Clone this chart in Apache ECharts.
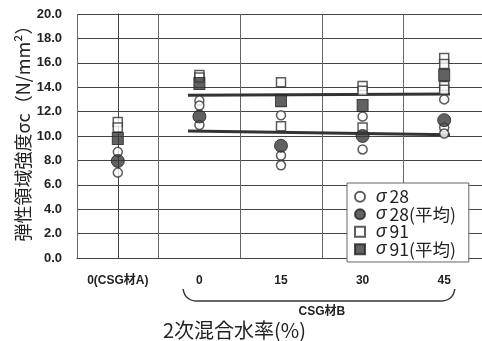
<!DOCTYPE html>
<html>
<head>
<meta charset="utf-8">
<script src="https://cdn.jsdelivr.net/npm/echarts@6/dist/echarts.min.js"></script>
<style>
  html, body { margin: 0; padding: 0; background: #fff; }
  #chart { width: 482px; height: 341px; }
</style>
</head>
<body>
<div id="chart"></div>
<script>
// Secondary mixing water ratio categories
const categories = ['0(CSG材A)', '0', '15', '30', '45'];
// Individual specimens and averages, strength in N/mm²
const sigma28 = [[8.7, 7.0], [12.9, 12.5, 10.9], [11.7, 8.4, 7.6], [11.6, 8.9], [13.0, 10.7, 10.2]];
const sigma28Mean = [7.95, 11.6, 9.2, 10.0, 11.3];
const sigma91 = [[11.15, 10.7], [15.0, 14.8], [14.4, 10.8], [14.1, 13.7, 10.7], [16.4, 15.9, 14.1, 13.8]];
const sigma91Mean = [9.8, 14.3, 12.9, 12.5, 15.0];
// Reference bands drawn across CSG材B (x in category units, y in N/mm²)
const bandX = [0.86, 4.07];
const upperBand = [13.35, 13.45];
const lowerBand = [10.4, 10.1];
// Extent of the CSG材B brace, in category units
const braceX = [0.8, 4.13];
const yTicks = { min: 0, max: 20, step: 2 };

const FONT = "'Liberation Sans', 'Noto Sans CJK JP', sans-serif";
const CJK = "'Noto Sans CJK JP', 'Liberation Sans', sans-serif";
const INK = '#333';

function spread(groups) {
  const out = [];
  groups.forEach((vals, i) => vals.forEach(v => out.push([categories[i], v])));
  return out;
}
function pairs(vals) { return vals.map((v, i) => [categories[i], v]); }

const chart = echarts.init(document.getElementById('chart'), null, { renderer: 'canvas' });

const option = {
  backgroundColor: '#fff',
  animation: false,
  title: {
    text: '2次混合水率(%)',
    left: 158, top: 315,
    textStyle: { fontFamily: CJK, fontSize: 20, fontWeight: 'normal', color: '#222' }
  },
  grid: { left: 77, top: 14, width: 408, height: 244, outerBoundsMode: 'none', containLabel: false },
  xAxis: [{
    type: 'category',
    data: categories,
    boundaryGap: true,
    axisLine: { show: true, lineStyle: { color: '#444', width: 1 } },
    axisTick: { show: false },
    axisLabel: { interval: 0, margin: 17, fontFamily: FONT, fontSize: 12, fontWeight: 'bold', color: '#222' },
    splitLine: { show: true, interval: 0, lineStyle: { color: '#666', width: 1 } }
  }, {
    type: 'value', min: -0.5, max: 4.5, show: false
  }],
  yAxis: {
    type: 'value',
    min: yTicks.min, max: yTicks.max, interval: yTicks.step,
    name: '弾性領域強度σc（N/mm²）',
    nameLocation: 'middle',
    nameGap: 45,
    nameMoveOverlap: false,
    nameTextStyle: { fontFamily: CJK, fontSize: 18, color: '#222', padding: [0, 0, 0, 14] },
    axisLine: { show: true, lineStyle: { color: '#444' } },
    axisTick: { show: false },
    axisLabel: {
      margin: 15, fontFamily: FONT, fontSize: 13, fontWeight: 'bold', color: '#222',
      formatter: v => v.toFixed(1)
    },
    splitLine: { show: true, lineStyle: { color: '#444', width: 1 } }
  },
  legend: {
    orient: 'vertical',
    left: 347, top: 183,
    padding: [5, 13, 4, 7],
    backgroundColor: '#fff',
    borderColor: '#666', borderWidth: 1,
    itemWidth: 10, itemHeight: 10, itemGap: 0,
    textStyle: {
      fontFamily: CJK, fontSize: 17.5, color: '#222', lineHeight: 16,
      rich: {
        s: { fontFamily: FONT, fontSize: 17.5, lineHeight: 16, fontStyle: 'italic', color: '#222', padding: [0, 3, 0, 6] },
        t: { fontFamily: CJK, fontSize: 17.5, lineHeight: 16, color: '#222' }
      }
    },
    formatter: name => '{s|σ}{t|' + name.slice(1) + '}',
    data: ['σ28', 'σ28(平均)', 'σ91', 'σ91(平均)']
  },
  series: [
    {
      name: 'upper', type: 'line', xAxisIndex: 1, symbol: 'none', silent: true, z: 1,
      data: bandX.map((x, i) => [x, upperBand[i]]),
      lineStyle: { color: INK, width: 3 }
    },
    {
      name: 'lower', type: 'line', xAxisIndex: 1, symbol: 'none', silent: true, z: 1,
      data: bandX.map((x, i) => [x, lowerBand[i]]),
      lineStyle: { color: INK, width: 3 }
    },
    {
      name: 'σ28', type: 'scatter', symbol: 'circle', symbolSize: 9, z: 2,
      data: spread(sigma28),
      itemStyle: { color: '#fff', borderColor: INK, borderWidth: 1.5 }
    },
    {
      name: 'σ28(平均)', type: 'scatter', symbol: 'circle', symbolSize: 13, z: 3,
      data: pairs(sigma28Mean),
      itemStyle: { color: '#3a3a3a', borderColor: '#222', borderWidth: 1 }
    },
    {
      name: 'σ91', type: 'scatter', symbol: 'rect', symbolSize: 9, z: 2,
      data: spread(sigma91),
      itemStyle: { color: '#fff', borderColor: INK, borderWidth: 1.5 }
    },
    {
      name: 'σ91(平均)', type: 'scatter', symbol: 'rect', symbolSize: [11, 12], z: 3,
      data: pairs(sigma91Mean),
      itemStyle: { color: '#3a3a3a', borderColor: '#222', borderWidth: 1 }
    }
  ]
};
chart.setOption(option);

// Brace grouping the CSG材B categories under the axis labels
const xL = chart.convertToPixel({ xAxisIndex: 1 }, braceX[0]);
const xR = chart.convertToPixel({ xAxisIndex: 1 }, braceX[1]);
const xM = (xL + xR) / 2;
const yTop = 289, yBot = 301;
const braceStyle = { fill: null, stroke: INK, lineWidth: 1.5 };
chart.setOption({
  graphic: [
    {
      type: 'bezierCurve',
      shape: { x1: xL, y1: yTop, cpx1: xL + 2, cpy1: yBot, x2: xL + 14, y2: yBot },
      style: braceStyle
    },
    {
      type: 'line',
      shape: { x1: xL + 14, y1: yBot, x2: xR - 14, y2: yBot },
      style: braceStyle
    },
    {
      type: 'bezierCurve',
      shape: { x1: xR - 14, y1: yBot, cpx1: xR - 2, cpy1: yBot, x2: xR, y2: yTop },
      style: braceStyle
    },
    {
      type: 'text', x: xM + 3, y: 312,
      style: { text: 'CSG材B', font: `bold 12px ${FONT}`, fill: '#222', textAlign: 'center', textVerticalAlign: 'middle' }
    }
  ]
});
</script>
</body>
</html>
